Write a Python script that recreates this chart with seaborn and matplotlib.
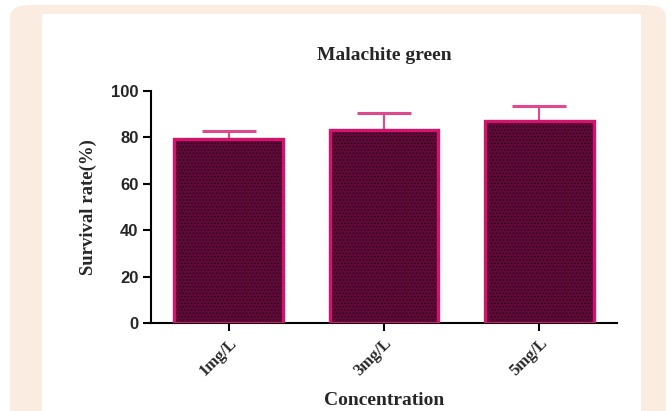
import matplotlib
matplotlib.use("Agg")
import matplotlib.pyplot as plt
from matplotlib.patches import FancyBboxPatch, Rectangle
import seaborn as sns
import pandas as pd

# Survival rate at each malachite green concentration
concentrations = ["1mg/L", "3mg/L", "5mg/L"]
survival_rate = [79.2, 83.4, 87.1]
survival_err = [3.4, 7.2, 6.3]
y_ticks = [0, 20, 40, 60, 80, 100]

df = pd.DataFrame({"Concentration": concentrations, "Survival": survival_rate})

sns.set_theme(style="white")
plt.rcParams["hatch.linewidth"] = 0.6

FILL = "#62093a"
EDGE = "#d4136c"
ERR = "#e04a8c"
PEACH = "#fbece2"

fig = plt.figure(figsize=(6.71, 4.11), dpi=100)
W, H = 671, 411

# peach card with a white panel on top
fig.patches.append(FancyBboxPatch((10 / W, -40 / H), 656 / W, (411 - 5 + 40) / H,
                                  boxstyle="round,pad=0,rounding_size=0.03",
                                  transform=fig.transFigure, facecolor=PEACH,
                                  edgecolor="none", zorder=-3))
fig.patches.append(Rectangle((42 / W, 0), 599 / W, 1 - 14 / H,
                             transform=fig.transFigure, facecolor="white",
                             edgecolor="none", zorder=-2))

ax = fig.add_axes([151 / W, 1 - 323 / H, (617 - 151) / W, (323 - 91) / H])
ax.patch.set_alpha(0)

# dotted fill
sns.barplot(data=df, x="Concentration", y="Survival", ax=ax, width=0.7,
            color=FILL, saturation=1, edgecolor="#1a0010", linewidth=0,
            hatch=".....", errorbar=None, zorder=2)
# pink outline
sns.barplot(data=df, x="Concentration", y="Survival", ax=ax, width=0.7,
            fill=False, edgecolor=EDGE, linewidth=2.4, errorbar=None, zorder=3)

ax.errorbar(range(len(concentrations)), survival_rate,
            yerr=[[0] * len(survival_err), survival_err], fmt="none",
            ecolor=ERR, elinewidth=1.5, capsize=19.5, capthick=2.2, zorder=1)

ax.set_xlim(-0.5, 2.5)
ax.set_ylim(0, 100)
ax.set_yticks(y_ticks)
ax.set_yticklabels([str(t) for t in y_ticks], fontfamily="Liberation Sans",
                   fontweight="bold", fontsize=12)
ax.set_xticks(range(len(concentrations)))
ax.set_xticklabels(concentrations, rotation=45, ha="right",
                   rotation_mode="anchor", fontfamily="Liberation Serif",
                   fontweight="bold", fontsize=12)

for side in ["top", "right"]:
    ax.spines[side].set_visible(False)
for side in ["left", "bottom"]:
    ax.spines[side].set_color("black")
    ax.spines[side].set_linewidth(1.5)
ax.tick_params(axis="both", which="major", direction="out", length=6,
               width=1.5, color="black", pad=3, left=True, bottom=True)

ax.set_xlabel("Concentration", fontfamily="Liberation Serif",
              fontweight="bold", fontsize=14, labelpad=9)
ax.set_ylabel("Survival rate(%)", fontfamily="Liberation Serif",
              fontweight="bold", fontsize=13.5, labelpad=10)
ax.set_title("Malachite green", fontfamily="Liberation Serif",
             fontweight="bold", fontsize=14, pad=22)

fig.savefig("out.png", dpi=100)
